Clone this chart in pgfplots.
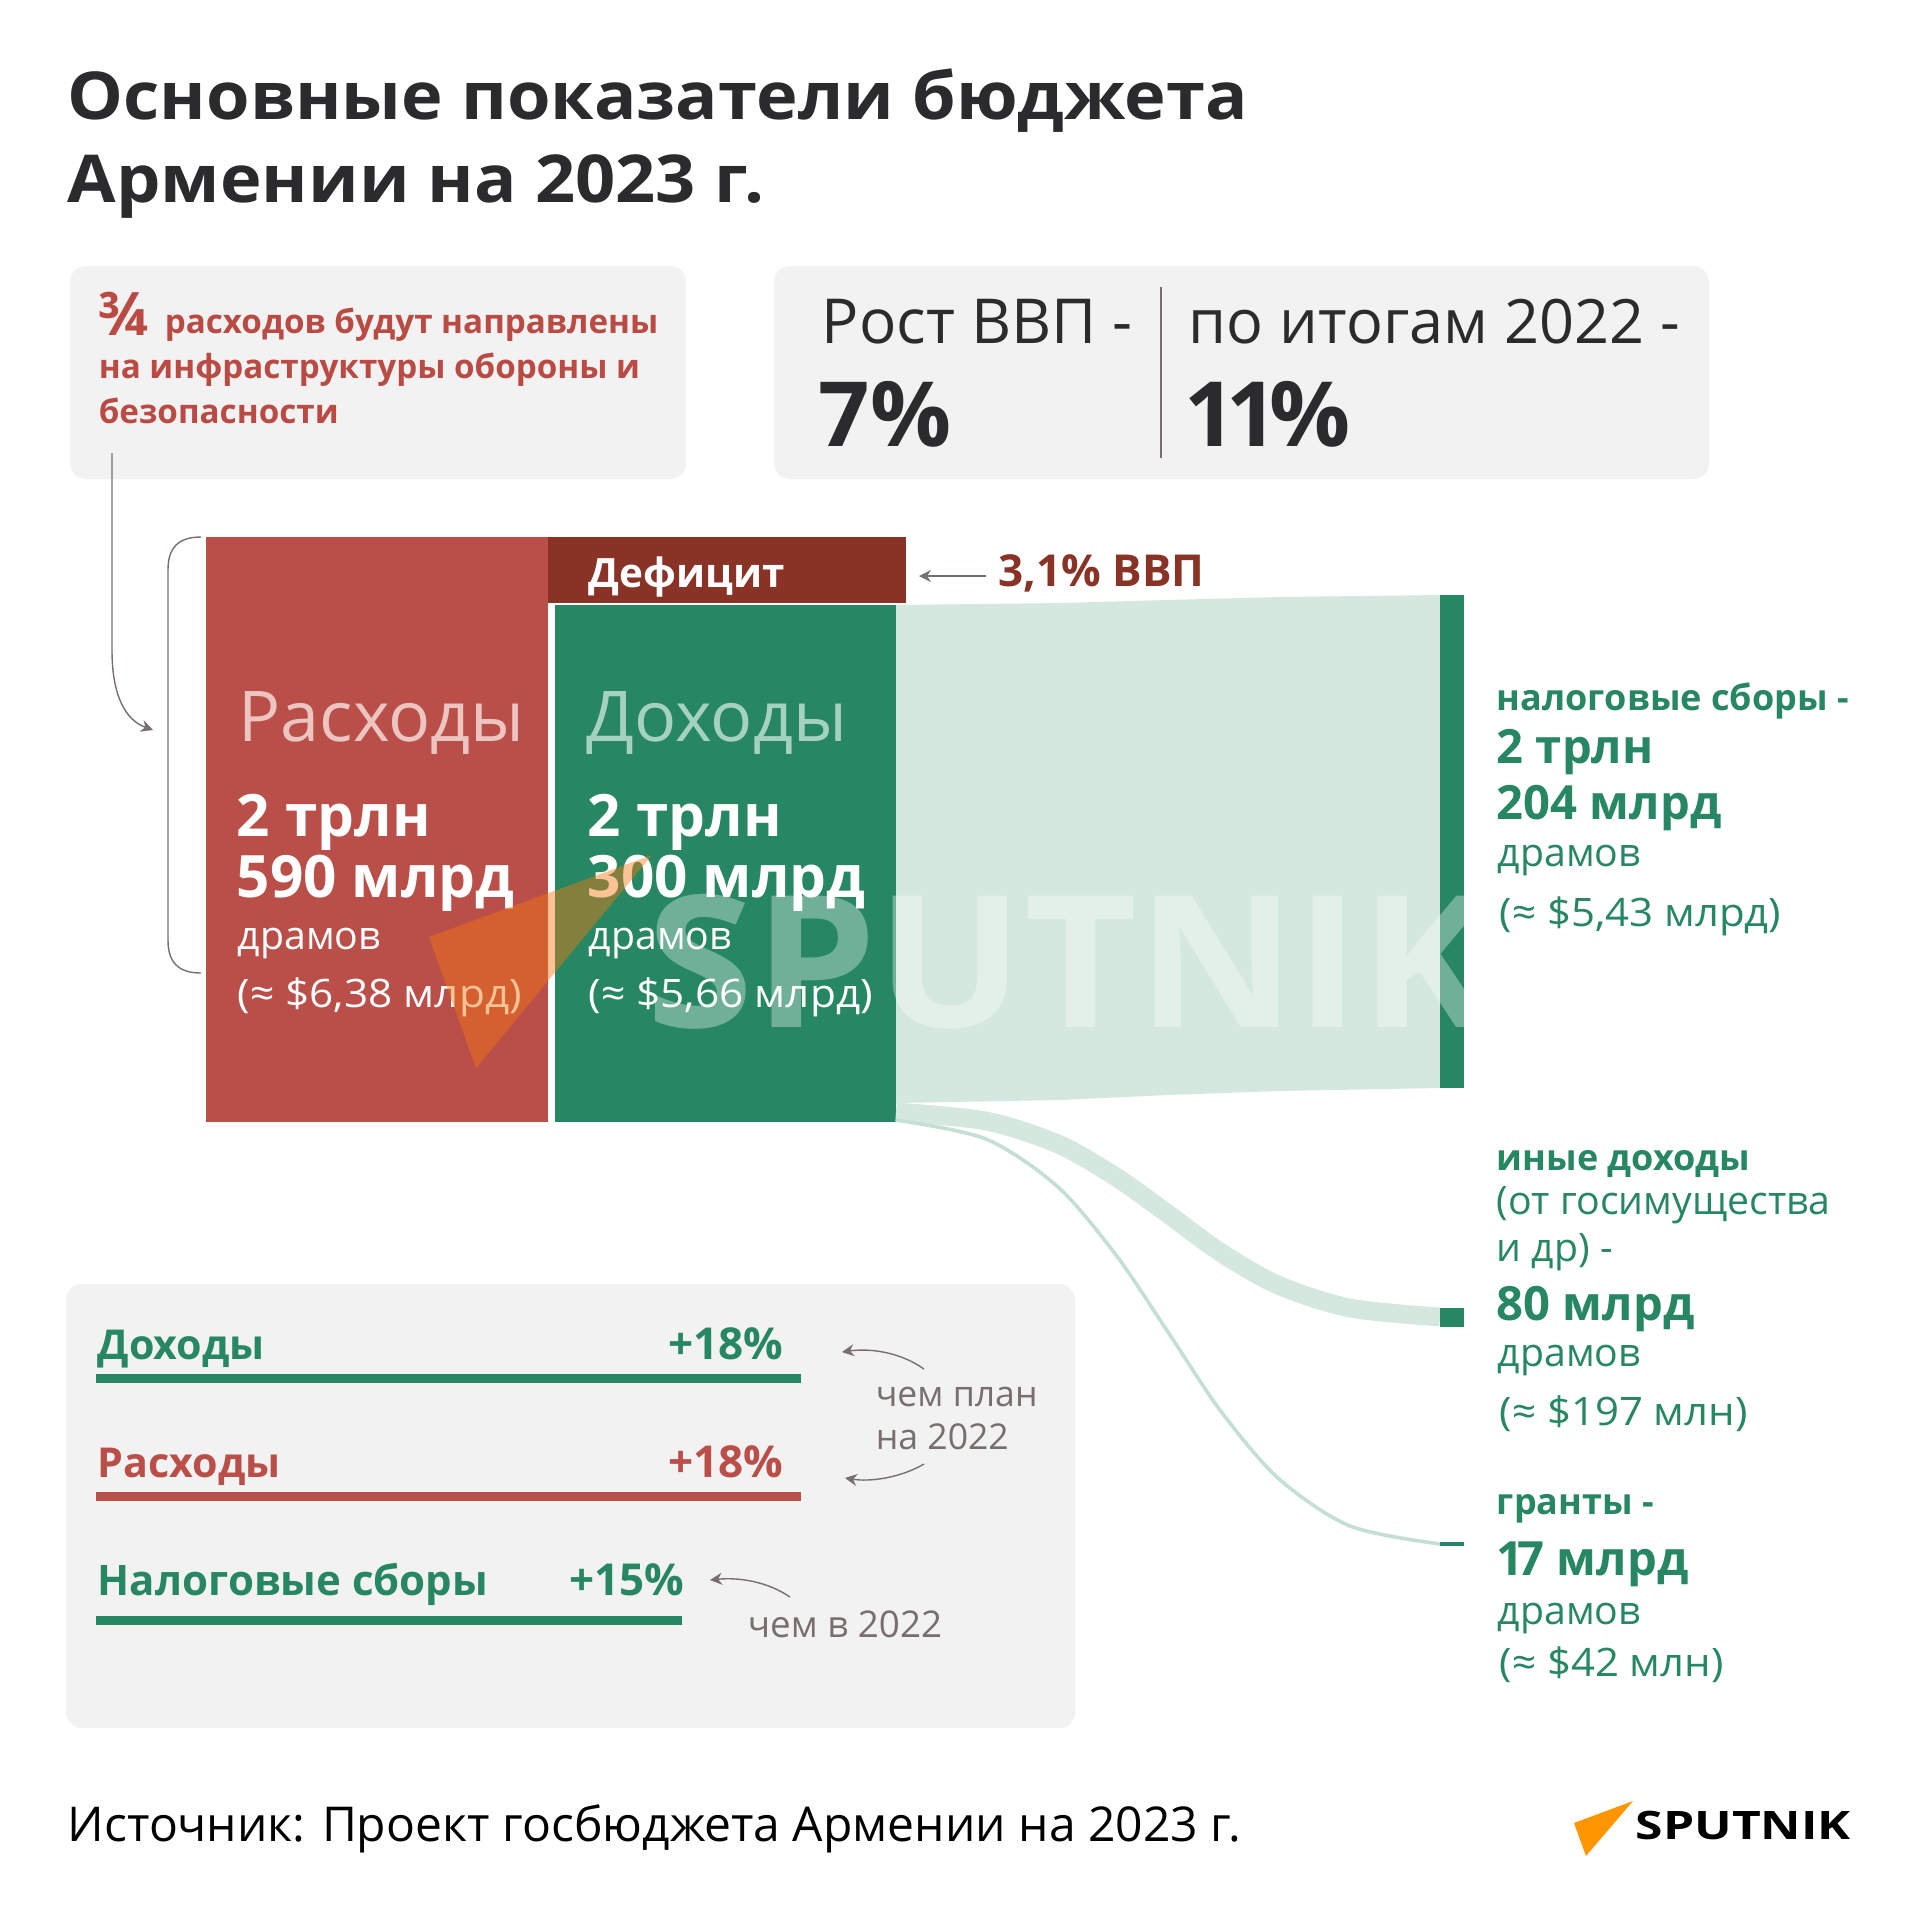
\documentclass[border=0pt]{standalone}
\usepackage{fontspec}
\setmainfont{Open Sans}
\usepackage{pgfplots}
\pgfplotsset{compat=1.18}
\usetikzlibrary{arrows.meta}
\definecolor{redbar}{RGB}{186,78,72}
\definecolor{deficit}{RGB}{137,51,38}
\definecolor{gbar}{RGB}{38,135,98}
\definecolor{flowc}{RGB}{213,232,224}
\definecolor{flowthin}{RGB}{196,223,212}
\definecolor{boxgray}{RGB}{242,242,242}
\definecolor{dark}{RGB}{43,43,45}
\definecolor{annot}{RGB}{120,110,110}
\definecolor{redtext}{RGB}{185,75,68}
\definecolor{pinktext}{RGB}{236,196,192}
\definecolor{minttext}{RGB}{165,210,190}
\definecolor{orangewm}{RGB}{245,120,20}
\definecolor{orangelogo}{RGB}{255,150,0}
\newcommand{\F}[1]{\fontsize{#1}{#1}\selectfont}
\begin{document}
\begin{tikzpicture}
\begin{axis}[width=480pt,height=480.25pt,scale only axis,
  xmin=0,xmax=1920,ymin=0,ymax=1921,y dir=reverse,
  axis lines=none,ticks=none,clip=false]
\fill[white] (axis cs:0,0) rectangle (axis cs:1920,1921);
% boxes
\fill[boxgray, rounded corners=4pt] (axis cs:70,266) rectangle (axis cs:686,479);
\fill[boxgray, rounded corners=4pt] (axis cs:774,266) rectangle (axis cs:1709,479);
\fill[boxgray, rounded corners=4pt] (axis cs:66,1284) rectangle (axis cs:1075,1728);
% title
\node[anchor=base west, inner sep=0, text=dark, font=\F{16.5}\bfseries] at (axis cs:67,119) {\scalebox{1.066}[1]{Основные показатели бюджета}};
\node[anchor=base west, inner sep=0, text=dark, font=\F{16.5}\bfseries] at (axis cs:67,202) {\scalebox{1.066}[1]{Армении на 2023 г.}};
% left box text
\node[anchor=base west, inner sep=0, text=redtext, font=\F{15}\bfseries] at (axis cs:97,335) {¾};
\node[anchor=base west, inner sep=0, text=redtext, font=\F{8.3}\bfseries] at (axis cs:164,333) {расходов будут направлены};
\node[anchor=base west, inner sep=0, text=redtext, font=\F{8.3}\bfseries] at (axis cs:98,378) {на инфраструктуры обороны и};
\node[anchor=base west, inner sep=0, text=redtext, font=\F{8.3}\bfseries] at (axis cs:98,423) {безопасности};
% right box
\node[anchor=base west, inner sep=0, text=dark, font=\F{15.5}] at (axis cs:821,343) {Рост ВВП -};
\node[anchor=base west, inner sep=0, text=dark, font=\F{22.5}\bfseries] at (axis cs:818,446) {7\%};
\node[anchor=base west, inner sep=0, text=dark, font=\F{15.3}] at (axis cs:1188,343) {по итогам 2022 -};
\node[anchor=base west, inner sep=0, text=dark, font=\F{22.5}\bfseries] at (axis cs:1184,446) {1\kern-2.5pt1\kern-2pt\%};
\draw[annot, line width=0.35pt] (axis cs:1161,287) -- (axis cs:1161,458);
% connector arrow and bracket
\draw[annot, line width=0.35pt, -{Stealth[length=3pt,width=3pt]}] (axis cs:112,453) -- (axis cs:112,650) .. controls (axis cs:112,695) and (axis cs:125,720) .. (axis cs:153,730);
\draw[annot, line width=0.35pt] (axis cs:201,537) .. controls (axis cs:178,537) and (axis cs:168,548) .. (axis cs:168,570) -- (axis cs:168,940) .. controls (axis cs:168,962) and (axis cs:178,973) .. (axis cs:201,973);
% bars
\addplot[draw=none, fill=redbar] coordinates {(206,537) (548,537) (548,1122) (206,1122)} -- cycle;
\addplot[draw=none, fill=deficit] coordinates {(548,537) (906,537) (906,603) (548,603)} -- cycle;
\addplot[draw=none, fill=gbar] coordinates {(555,605) (896,605) (896,1122) (555,1122)} -- cycle;
% flows
\addplot[draw=none, fill=flowc] coordinates {(896,605) (1060,603) (1168,600) (1280,597) (1440,595) (1440,1088) (1280,1091) (1168,1095) (1060,1100) (896,1103)} -- cycle;
\addplot[flowc, line width=4.7pt, smooth, tension=0.5] coordinates {(896,1112) (986,1121) (1058,1144) (1116,1177) (1168,1214) (1220,1252) (1278,1285) (1350,1308) (1440,1317)};
\addplot[flowthin, line width=0.9pt, smooth, tension=0.5] coordinates {(896,1120) (986,1139) (1058,1187) (1116,1255) (1168,1332) (1220,1410) (1278,1478) (1350,1526) (1440,1544)};
% nodes on the right
\addplot[draw=none, fill=gbar] coordinates {(1440,595) (1464,595) (1464,1088) (1440,1088)} -- cycle;
\addplot[draw=none, fill=gbar] coordinates {(1440,1308) (1464,1308) (1464,1327) (1440,1327)} -- cycle;
\addplot[draw=none, fill=gbar] coordinates {(1440,1542) (1464,1542) (1464,1546) (1440,1546)} -- cycle;
% bar texts
\node[anchor=base west, inner sep=0, text=pinktext, font=\F{17.5}] at (axis cs:238,741) {Расходы};
\node[anchor=base west, inner sep=0, text=white, font=\F{14.6}\bfseries] at (axis cs:236,836) {2 трлн};
\node[anchor=base west, inner sep=0, text=white, font=\F{14.6}\bfseries] at (axis cs:236,897) {590 млрд};
\node[anchor=base west, inner sep=0, text=white, font=\F{9.8}] at (axis cs:237,949) {драмов};
\node[anchor=base west, inner sep=0, text=white, font=\F{9.8}] at (axis cs:237,1007) {\scalebox{1.08}[1]{(≈ \$6,38 млрд)}};
\node[anchor=base west, inner sep=0, text=minttext, font=\F{17.5}] at (axis cs:586,741) {Доходы};
\node[anchor=base west, inner sep=0, text=white, font=\F{14.6}\bfseries] at (axis cs:587,836) {2 трлн};
\node[anchor=base west, inner sep=0, text=white, font=\F{14.6}\bfseries] at (axis cs:587,897) {300 млрд};
\node[anchor=base west, inner sep=0, text=white, font=\F{9.8}] at (axis cs:588,949) {драмов};
\node[anchor=base west, inner sep=0, text=white, font=\F{9.8}] at (axis cs:588,1007) {\scalebox{1.08}[1]{(≈ \$5,66 млрд)}};
\node[anchor=base west, inner sep=0, text=white, font=\F{10.1}\bfseries] at (axis cs:588,587) {Дефицит};
\draw[annot, line width=0.35pt, -{Stealth[length=3pt,width=3pt]}] (axis cs:986,576) -- (axis cs:919,576);
\node[anchor=base west, inner sep=0, text=deficit, font=\F{11}\bfseries] at (axis cs:998,586) {3,1\% ВВП};
% right labels
\node[anchor=base west, inner sep=0, text=gbar, font=\F{9}\bfseries] at (axis cs:1496,710) {налоговые сборы -};
\node[anchor=base west, inner sep=0, text=gbar, font=\F{11.8}\bfseries] at (axis cs:1496,763) {2 трлн};
\node[anchor=base west, inner sep=0, text=gbar, font=\F{11.8}\bfseries] at (axis cs:1496,819) {204 млрд};
\node[anchor=base west, inner sep=0, text=gbar, font=\F{9.8}] at (axis cs:1497,866) {драмов};
\node[anchor=base west, inner sep=0, text=gbar, font=\F{9.8}] at (axis cs:1499,926) {\scalebox{1.07}[1]{(≈ \$5,43 млрд)}};
\node[anchor=base west, inner sep=0, text=gbar, font=\F{9}\bfseries] at (axis cs:1496,1170) {иные доходы};
\node[anchor=base west, inner sep=0, text=gbar, font=\F{9.8}] at (axis cs:1496,1214) {(от госимущества};
\node[anchor=base west, inner sep=0, text=gbar, font=\F{9.8}] at (axis cs:1496,1261) {и др) -};
\node[anchor=base west, inner sep=0, text=gbar, font=\F{11.8}\bfseries] at (axis cs:1496,1320) {80 млрд};
\node[anchor=base west, inner sep=0, text=gbar, font=\F{9.8}] at (axis cs:1497,1366) {драмов};
\node[anchor=base west, inner sep=0, text=gbar, font=\F{9.8}] at (axis cs:1499,1425) {\scalebox{1.07}[1]{(≈ \$197 млн)}};
\node[anchor=base west, inner sep=0, text=gbar, font=\F{9}\bfseries] at (axis cs:1496,1514) {гранты -};
\node[anchor=base west, inner sep=0, text=gbar, font=\F{11.8}\bfseries] at (axis cs:1496,1575) {1\kern-1.5pt7 млрд};
\node[anchor=base west, inner sep=0, text=gbar, font=\F{9.8}] at (axis cs:1497,1624) {драмов};
\node[anchor=base west, inner sep=0, text=gbar, font=\F{9.8}] at (axis cs:1499,1676) {\scalebox{1.07}[1]{(≈ \$42 млн)}};
% bottom box
\node[anchor=base west, inner sep=0, text=gbar, font=\F{10.3}\bfseries] at (axis cs:97,1359) {Доходы};
\node[anchor=base east, inner sep=0, text=gbar, font=\F{11}\bfseries] at (axis cs:784,1359) {+18\%};
\addplot[draw=none, fill=gbar] coordinates {(96,1374) (801,1374) (801,1383) (96,1383)} -- cycle;
\node[anchor=base west, inner sep=0, text=redbar, font=\F{10.3}\bfseries] at (axis cs:97,1477) {Расходы};
\node[anchor=base east, inner sep=0, text=redbar, font=\F{11}\bfseries] at (axis cs:784,1477) {+18\%};
\addplot[draw=none, fill=redbar] coordinates {(96,1492) (801,1492) (801,1501) (96,1501)} -- cycle;
\node[anchor=base west, inner sep=0, text=gbar, font=\F{10.5}\bfseries] at (axis cs:97,1595) {Налоговые сборы};
\node[anchor=base east, inner sep=0, text=gbar, font=\F{11}\bfseries] at (axis cs:685,1595) {+15\%};
\addplot[draw=none, fill=gbar] coordinates {(96,1616) (682,1616) (682,1625) (96,1625)} -- cycle;
\node[anchor=base west, inner sep=0, text=annot, font=\F{8.9}] at (axis cs:875,1406) {чем план};
\node[anchor=base west, inner sep=0, text=annot, font=\F{8.9}] at (axis cs:875,1449) {на 2022};
\node[anchor=base west, inner sep=0, text=annot, font=\F{9.2}] at (axis cs:747,1637) {чем в 2022};
\draw[annot, line width=0.35pt, -{Stealth[length=3pt,width=3pt]}] (axis cs:924,1369) .. controls (axis cs:900,1352) and (axis cs:870,1348) .. (axis cs:842,1352);
\draw[annot, line width=0.35pt, -{Stealth[length=3pt,width=3pt]}] (axis cs:924,1464) .. controls (axis cs:900,1478) and (axis cs:870,1482) .. (axis cs:845,1478);
\draw[annot, line width=0.35pt, -{Stealth[length=3pt,width=3pt]}] (axis cs:790,1597) .. controls (axis cs:768,1582) and (axis cs:740,1577) .. (axis cs:710,1580);
% footer
\node[anchor=base west, inner sep=0, text=black, font=\F{12}] at (axis cs:67,1841) {Источник: Проект госбюджета Армении на 2023 г.};
\addplot[draw=none, fill=orangelogo] coordinates {(1633,1801) (1574,1823) (1586,1856)} -- cycle;
\node[anchor=base west, inner sep=0, text=black, font=\F{9.8}\bfseries] at (axis cs:1635,1839) {\scalebox{1.27}[1]{SPUTNIK}};
% watermark
\node[anchor=base west, inner sep=0, text=white, opacity=0.35, font=\F{46}\bfseries] at (axis cs:646,1027) {\scalebox{1.06}[1]{SPUTNIK}};
\addplot[draw=none, fill=orangewm, fill opacity=0.45] coordinates {(652,855) (429,937) (476,1068)} -- cycle;
\end{axis}
\end{tikzpicture}
\end{document}
